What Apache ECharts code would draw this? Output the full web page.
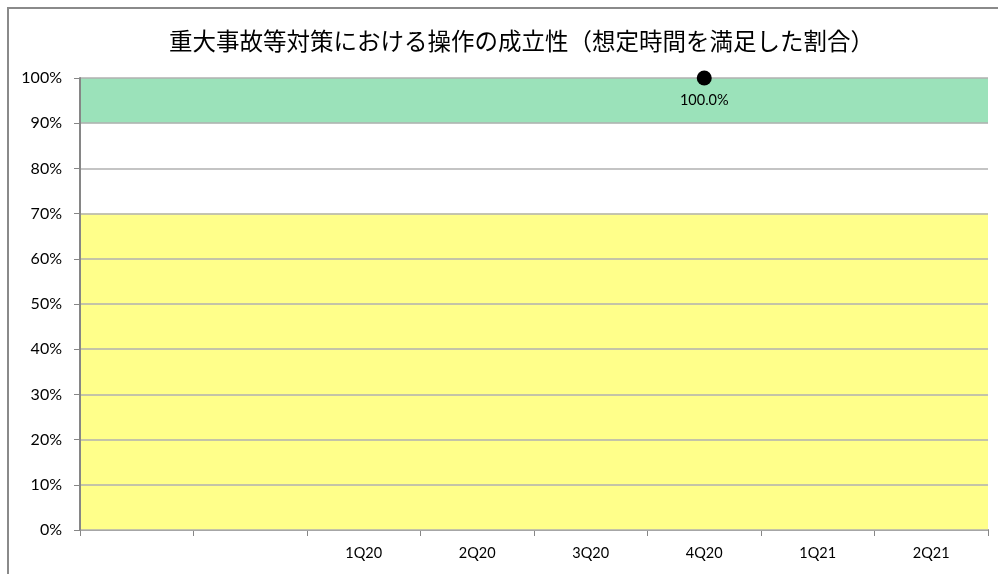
<!DOCTYPE html>
<html><head><meta charset="utf-8">
<script src="https://cdn.jsdelivr.net/npm/echarts@6/dist/echarts.min.js"></script>
<style>html,body{margin:0;padding:0;background:#fff}#c{width:998px;height:574px}</style>
</head><body><div id="c"></div>
<script>
const categories = ['', '', '1Q20', '2Q20', '3Q20', '4Q20', '1Q21', '2Q21'];
const successRate = [null, null, null, null, null, 100, null, null];
const yTicks = [0, 10, 20, 30, 40, 50, 60, 70, 80, 90, 100];
const targetBand = [90, 100];
const warnBand = [0, 70];
const titleText = '重大事故等対策における操作の成立性（想定時間を満足した割合）';

const chart = echarts.init(document.getElementById('c'));
chart.setOption({
  animation: false,
  textStyle: { fontFamily: 'Lato, "Noto Sans CJK JP", sans-serif' },
  title: {
    text: titleText, left: 164, top: 24,
    textStyle: { fontFamily: '"Noto Sans CJK JP", sans-serif', fontSize: 23.5, fontWeight: 'normal', color: '#000' }
  },
  graphic: [{
    type: 'rect', shape: { x: 8, y: 8, width: 1200, height: 1200 },
    style: { fill: 'none', stroke: '#8a8a8a', lineWidth: 2 }, silent: true
  }],
  grid: { left: 80, right: 10, top: 78, bottom: 44 },
  xAxis: {
    type: 'category', data: categories, boundaryGap: true,
    axisLine: { lineStyle: { color: '#868686', width: 2 } },
    axisTick: { show: true, length: 6, interval: 0, lineStyle: { color: '#868686' } },
    axisLabel: { color: '#000', fontSize: 14.5, margin: 16, interval: 0 },
    splitLine: { show: false }
  },
  yAxis: {
    type: 'value', min: yTicks[0], max: yTicks[yTicks.length - 1], interval: 10, z: 3,
    axisLine: { show: true, lineStyle: { color: '#868686', width: 2 } },
    axisTick: { show: true, length: 6, lineStyle: { color: '#868686' } },
    axisLabel: { color: '#000', fontSize: 16, margin: 18, formatter: v => v + '%' },
    splitLine: { show: true, lineStyle: { color: '#b0b0b0', width: 1.5 } }
  },
  series: [{
    type: 'line', data: successRate, z: 4,
    lineStyle: { width: 0 },
    symbol: 'circle', symbolSize: 15, showAllSymbol: true,
    itemStyle: { color: '#000' },
    label: { show: true, position: 'bottom', distance: 8, color: '#000', fontSize: 14.5, formatter: p => p.value.toFixed(1) + '%' },
    markArea: {
      silent: true,
      data: [
        [{ yAxis: targetBand[0], itemStyle: { opacity: 1, color: '#9be2ba' } }, { yAxis: targetBand[1] }],
        [{ yAxis: warnBand[0], itemStyle: { opacity: 1, color: '#ffff8a' } }, { yAxis: warnBand[1] }]
      ]
    }
  }]
});
</script></body></html>
